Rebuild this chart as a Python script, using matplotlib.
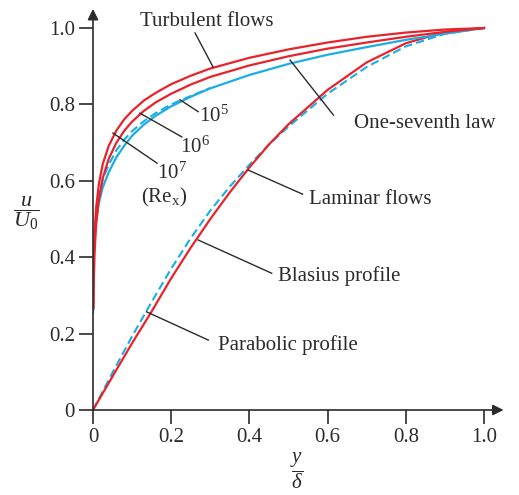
import matplotlib
matplotlib.use("Agg")
import matplotlib.pyplot as plt

# --- data (y/delta -> u/U0) ---
turb_x = [0.0005, 0.001, 0.002, 0.004, 0.008, 0.015, 0.025, 0.04, 0.06, 0.08, 0.1,
          0.13, 0.16, 0.2, 0.25, 0.3, 0.4, 0.5, 0.6, 0.7, 0.8, 0.9, 1.0]
re7_u = [0.27, 0.319, 0.389, 0.459, 0.529, 0.592, 0.644, 0.691, 0.732, 0.761, 0.783,
         0.810, 0.830, 0.853, 0.875, 0.894, 0.922, 0.944, 0.962, 0.977, 0.988, 0.996, 1.0]
re6_u = [0.20, 0.265, 0.337, 0.411, 0.485, 0.552, 0.607, 0.657, 0.700, 0.731, 0.755,
         0.783, 0.805, 0.828, 0.852, 0.872, 0.902, 0.926, 0.946, 0.962, 0.977, 0.990, 1.0]

seventh_x = [0.0001, 0.0005, 0.001, 0.002, 0.004, 0.008, 0.015, 0.025, 0.04, 0.06, 0.08,
             0.1, 0.13, 0.16, 0.2, 0.25, 0.3, 0.4, 0.5, 0.6, 0.7, 0.8, 0.9, 1.0]
seventh_u = [0.255, 0.330, 0.365, 0.405, 0.448, 0.495, 0.542, 0.583, 0.622, 0.662, 0.692,
             0.718, 0.747, 0.770, 0.795, 0.820, 0.842, 0.877, 0.906, 0.930, 0.950, 0.969, 0.985, 1.0]

re5_x = [0.0003, 0.001, 0.002, 0.004, 0.008, 0.015, 0.025, 0.04, 0.06, 0.08, 0.1,
         0.13, 0.16, 0.2, 0.25, 0.3]
re5_u = [0.26, 0.385, 0.425, 0.47, 0.515, 0.565, 0.605, 0.642, 0.68, 0.708, 0.73,
         0.756, 0.777, 0.80, 0.822, 0.843]

lam_x = [0, 0.05, 0.1, 0.15, 0.2, 0.25, 0.3, 0.35, 0.4, 0.45, 0.5, 0.6, 0.7, 0.8, 0.9, 1.0]
parabolic_u = [0, 0.088, 0.175, 0.258, 0.345, 0.425, 0.50, 0.57, 0.635, 0.695, 0.748,
               0.838, 0.91, 0.96, 0.99, 1.0]
blasius_u = [0, 0.098, 0.193, 0.283, 0.37, 0.45, 0.522, 0.585, 0.642, 0.695, 0.742,
             0.828, 0.898, 0.952, 0.985, 1.0]

ticks = [0, 0.2, 0.4, 0.6, 0.8, 1.0]
tick_labels = ["0", "0.2", "0.4", "0.6", "0.8", "1.0"]

RED = "#e8232b"
BLUE = "#1aaee6"
INK = "#2b2b2b"

plt.rcParams["font.family"] = ["Liberation Serif", "DejaVu Serif"]
plt.rcParams["mathtext.fontset"] = "custom"
plt.rcParams["mathtext.rm"] = "Liberation Serif"
plt.rcParams["mathtext.it"] = "Liberation Serif:italic"

fig = plt.figure(figsize=(5.19, 4.95), dpi=100)
ax = fig.add_axes([93 / 519, 85 / 495, 1.06 * 391 / 519, 1.06 * 382 / 495])
ax.set_xlim(0, 1.06)
ax.set_ylim(0, 1.06)

# curves
ax.plot(lam_x, blasius_u, color=BLUE, lw=1.5, ls=(0, (4, 2)))
ax.plot(lam_x, parabolic_u, color=RED, lw=1.6)
ax.plot(seventh_x, seventh_u, color=BLUE, lw=1.6)
ax.plot(re5_x, re5_u, color=BLUE, lw=1.5, ls=(0, (4, 2)))
ax.plot(turb_x[1:], re6_u[1:], color=RED, lw=1.6)
ax.plot(turb_x, re7_u, color=RED, lw=1.6)

# axes with arrows
for s in ax.spines.values():
    s.set_visible(False)
ax.annotate("", xy=(1.05, 0), xytext=(0, 0), annotation_clip=False,
            arrowprops=dict(arrowstyle="-|>", color=INK, lw=1.2, mutation_scale=16,
                            shrinkA=0, shrinkB=0))
ax.annotate("", xy=(0, 1.05), xytext=(0, 0), annotation_clip=False,
            arrowprops=dict(arrowstyle="-|>", color=INK, lw=1.2, mutation_scale=16,
                            shrinkA=0, shrinkB=0))
ax.set_xticks(ticks)
ax.set_xticklabels(tick_labels)
ax.set_yticks(ticks)
ax.set_yticklabels(tick_labels)
ax.tick_params(direction="out", length=10, width=1.2, color=INK, labelcolor=INK,
               labelsize=15, pad=3)

ax.text(-0.17, 0.516, r"$\dfrac{u}{U_0}$", fontsize=16, color=INK, ha="center", va="center")
ax.text(0.522, -0.16, r"$\dfrac{y}{\delta}$", fontsize=15, color=INK, ha="center", va="center")

# labels with leader lines
labels = [
    ("Turbulent flows", (0.29, 1.018), (0.261, 0.987), (0.307, 0.898)),
    ("One-seventh law", (0.849, 0.751), (0.615, 0.772), (0.504, 0.916)),
    ("Laminar flows", (0.708, 0.55), (0.536, 0.565), (0.397, 0.628)),
    ("Blasius profile", (0.629, 0.351), (0.457, 0.358), (0.269, 0.445)),
    ("Parabolic profile", (0.499, 0.170), (0.295, 0.183), (0.137, 0.257)),
]
for txt, pos, a, b in labels:
    ax.text(pos[0], pos[1], txt, fontsize=15, color=INK, ha="center", va="center")
    ax.plot([a[0], b[0]], [a[1], b[1]], color=INK, lw=1.0, clip_on=False)

re_labels = [
    (r"$\mathrm{10^5}$", (0.271, 0.754), (0.269, 0.781), (0.2225, 0.812)),
    (r"$\mathrm{10^6}$", (0.2225, 0.673), (0.227, 0.715), (0.12, 0.777)),
    (r"$\mathrm{10^7}$", (0.164, 0.605), (0.164, 0.646), (0.051, 0.725)),
]
for txt, pos, a, b in re_labels:
    ax.text(pos[0], pos[1], txt, fontsize=15, color=INK, ha="left", va="baseline")
    ax.plot([a[0], b[0]], [a[1], b[1]], color=INK, lw=1.0)
ax.text(0.124, 0.556, r"(Re$_\mathrm{x}$)", fontsize=15, color=INK, ha="left", va="center")

fig.savefig("out.png", dpi=100)
